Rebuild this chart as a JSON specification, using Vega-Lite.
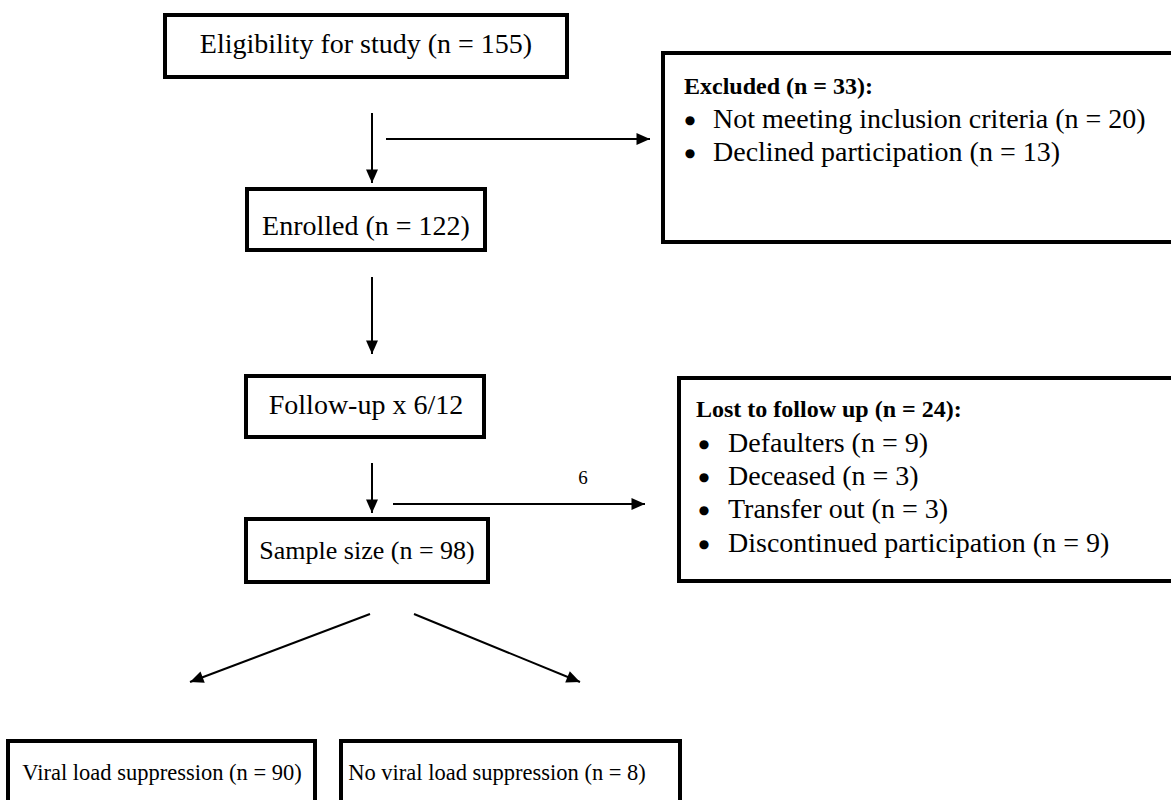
{
  "$schema": "https://vega.github.io/schema/vega-lite/v6.json",
  "width": 1171,
  "height": 800,
  "autosize": "none",
  "padding": 0,
  "background": "white",
  "config": {"view": {"stroke": null}},
  "datasets": {
    "boxes": [
      {"id": "eligibility", "x": 165, "x2": 567, "y": 15, "y2": 77},
      {"id": "excluded", "x": 663, "x2": 1190, "y": 53, "y2": 242},
      {"id": "enrolled", "x": 247, "x2": 485, "y": 189, "y2": 250},
      {"id": "followup", "x": 246, "x2": 484, "y": 376, "y2": 437},
      {"id": "lost", "x": 679, "x2": 1190, "y": 378, "y2": 581},
      {"id": "sample", "x": 246, "x2": 488, "y": 519, "y2": 582},
      {"id": "viral", "x": 8, "x2": 315, "y": 741, "y2": 820},
      {"id": "noviral", "x": 341, "x2": 680, "y": 741, "y2": 820}
    ],
    "arrows": [
      {"x": 372, "y": 113, "x2": 372, "y2": 183},
      {"x": 386, "y": 139, "x2": 650, "y2": 139},
      {"x": 372, "y": 277, "x2": 372, "y2": 354},
      {"x": 372, "y": 463, "x2": 372, "y2": 513},
      {"x": 393, "y": 504, "x2": 645, "y2": 504},
      {"x": 370, "y": 614, "x2": 190, "y2": 682},
      {"x": 414, "y": 614, "x2": 580, "y2": 682}
    ],
    "labels": [
      {"x": 366, "y": 45, "text": "Eligibility for study (n = 155)"},
      {"x": 366, "y": 227, "text": "Enrolled (n = 122)"},
      {"x": 366, "y": 406, "text": "Follow-up x 6/12"}
    ],
    "sample": [
      {"x": 367, "y": 551, "text": "Sample size (n = 98)"}
    ],
    "bottom": [
      {"x": 162, "y": 773, "text": "Viral load suppression (n = 90)"},
      {"x": 497, "y": 773, "text": "No viral load suppression (n = 8)"}
    ],
    "titles": [
      {"x": 684, "y": 87, "text": "Excluded (n = 33):"},
      {"x": 696, "y": 410, "text": "Lost to follow up (n = 24):"}
    ],
    "items": [
      {"bx": 690, "x": 713, "y": 120, "text": "Not meeting inclusion criteria (n = 20)"},
      {"bx": 690, "x": 713, "y": 153, "text": "Declined participation (n = 13)"},
      {"bx": 704, "x": 728, "y": 444, "text": "Defaulters (n = 9)"},
      {"bx": 704, "x": 728, "y": 477, "text": "Deceased (n = 3)"},
      {"bx": 704, "x": 728, "y": 510, "text": "Transfer out (n = 3)"},
      {"bx": 704, "x": 728, "y": 544, "text": "Discontinued participation (n = 9)"}
    ],
    "notes": [
      {"x": 583, "y": 478, "text": "6"}
    ]
  },
  "layer": [
    {
      "data": {"name": "boxes"},
      "mark": {"type": "rect", "fill": null, "fillOpacity": 0, "stroke": "black", "strokeWidth": 4, "clip": true},
      "encoding": {
        "x": {"field": "x", "type": "quantitative", "scale": {"domain": [0, 1171], "nice": false, "zero": false}, "axis": null},
        "x2": {"field": "x2"},
        "y": {"field": "y", "type": "quantitative", "scale": {"domain": [0, 800], "nice": false, "zero": false, "reverse": true}, "axis": null},
        "y2": {"field": "y2"}
      }
    },
    {
      "data": {"name": "arrows"},
      "mark": {"type": "rule", "stroke": "black", "strokeWidth": 2},
      "encoding": {
        "x": {"field": "x", "type": "quantitative"},
        "x2": {"field": "x2"},
        "y": {"field": "y", "type": "quantitative"},
        "y2": {"field": "y2"}
      }
    },
    {
      "data": {"name": "arrows"},
      "transform": [
        {"calculate": "atan2(datum.x2 - datum.x, datum.y2 - datum.y) * 180 / PI", "as": "raw"},
        {"calculate": "180 - datum.raw", "as": "ang"}
      ],
      "mark": {"type": "point", "shape": "M0,0L0.6,1.35L-0.6,1.35Z", "filled": true, "fill": "black", "stroke": null, "opacity": 1, "size": 400},
      "encoding": {
        "x": {"field": "x2", "type": "quantitative"},
        "y": {"field": "y2", "type": "quantitative"},
        "angle": {"field": "ang", "type": "quantitative", "scale": null}
      }
    },
    {
      "data": {"name": "labels"},
      "mark": {"type": "text", "font": "Liberation Serif", "fontSize": 28, "align": "center", "baseline": "middle", "color": "black"},
      "encoding": {
        "x": {"field": "x", "type": "quantitative"},
        "y": {"field": "y", "type": "quantitative"},
        "text": {"field": "text"}
      }
    },
    {
      "data": {"name": "sample"},
      "mark": {"type": "text", "font": "Liberation Serif", "fontSize": 26, "align": "center", "baseline": "middle", "color": "black"},
      "encoding": {
        "x": {"field": "x", "type": "quantitative"},
        "y": {"field": "y", "type": "quantitative"},
        "text": {"field": "text"}
      }
    },
    {
      "data": {"name": "bottom"},
      "mark": {"type": "text", "font": "Liberation Serif", "fontSize": 22.5, "align": "center", "baseline": "middle", "color": "black"},
      "encoding": {
        "x": {"field": "x", "type": "quantitative"},
        "y": {"field": "y", "type": "quantitative"},
        "text": {"field": "text"}
      }
    },
    {
      "data": {"name": "titles"},
      "mark": {"type": "text", "font": "Liberation Serif", "fontSize": 24, "fontWeight": "bold", "align": "left", "baseline": "middle", "color": "black"},
      "encoding": {
        "x": {"field": "x", "type": "quantitative"},
        "y": {"field": "y", "type": "quantitative"},
        "text": {"field": "text"}
      }
    },
    {
      "data": {"name": "items"},
      "mark": {"type": "text", "font": "Liberation Serif", "fontSize": 28, "align": "left", "baseline": "middle", "color": "black"},
      "encoding": {
        "x": {"field": "x", "type": "quantitative"},
        "y": {"field": "y", "type": "quantitative"},
        "text": {"field": "text"}
      }
    },
    {
      "data": {"name": "items"},
      "mark": {"type": "text", "font": "DejaVu Sans", "fontSize": 12, "align": "center", "baseline": "middle", "color": "black", "text": "●"},
      "encoding": {
        "x": {"field": "bx", "type": "quantitative"},
        "y": {"field": "y", "type": "quantitative"}
      }
    },
    {
      "data": {"name": "notes"},
      "mark": {"type": "text", "font": "Liberation Serif", "fontSize": 19, "align": "center", "baseline": "middle", "color": "black"},
      "encoding": {
        "x": {"field": "x", "type": "quantitative"},
        "y": {"field": "y", "type": "quantitative"},
        "text": {"field": "text"}
      }
    }
  ]
}
